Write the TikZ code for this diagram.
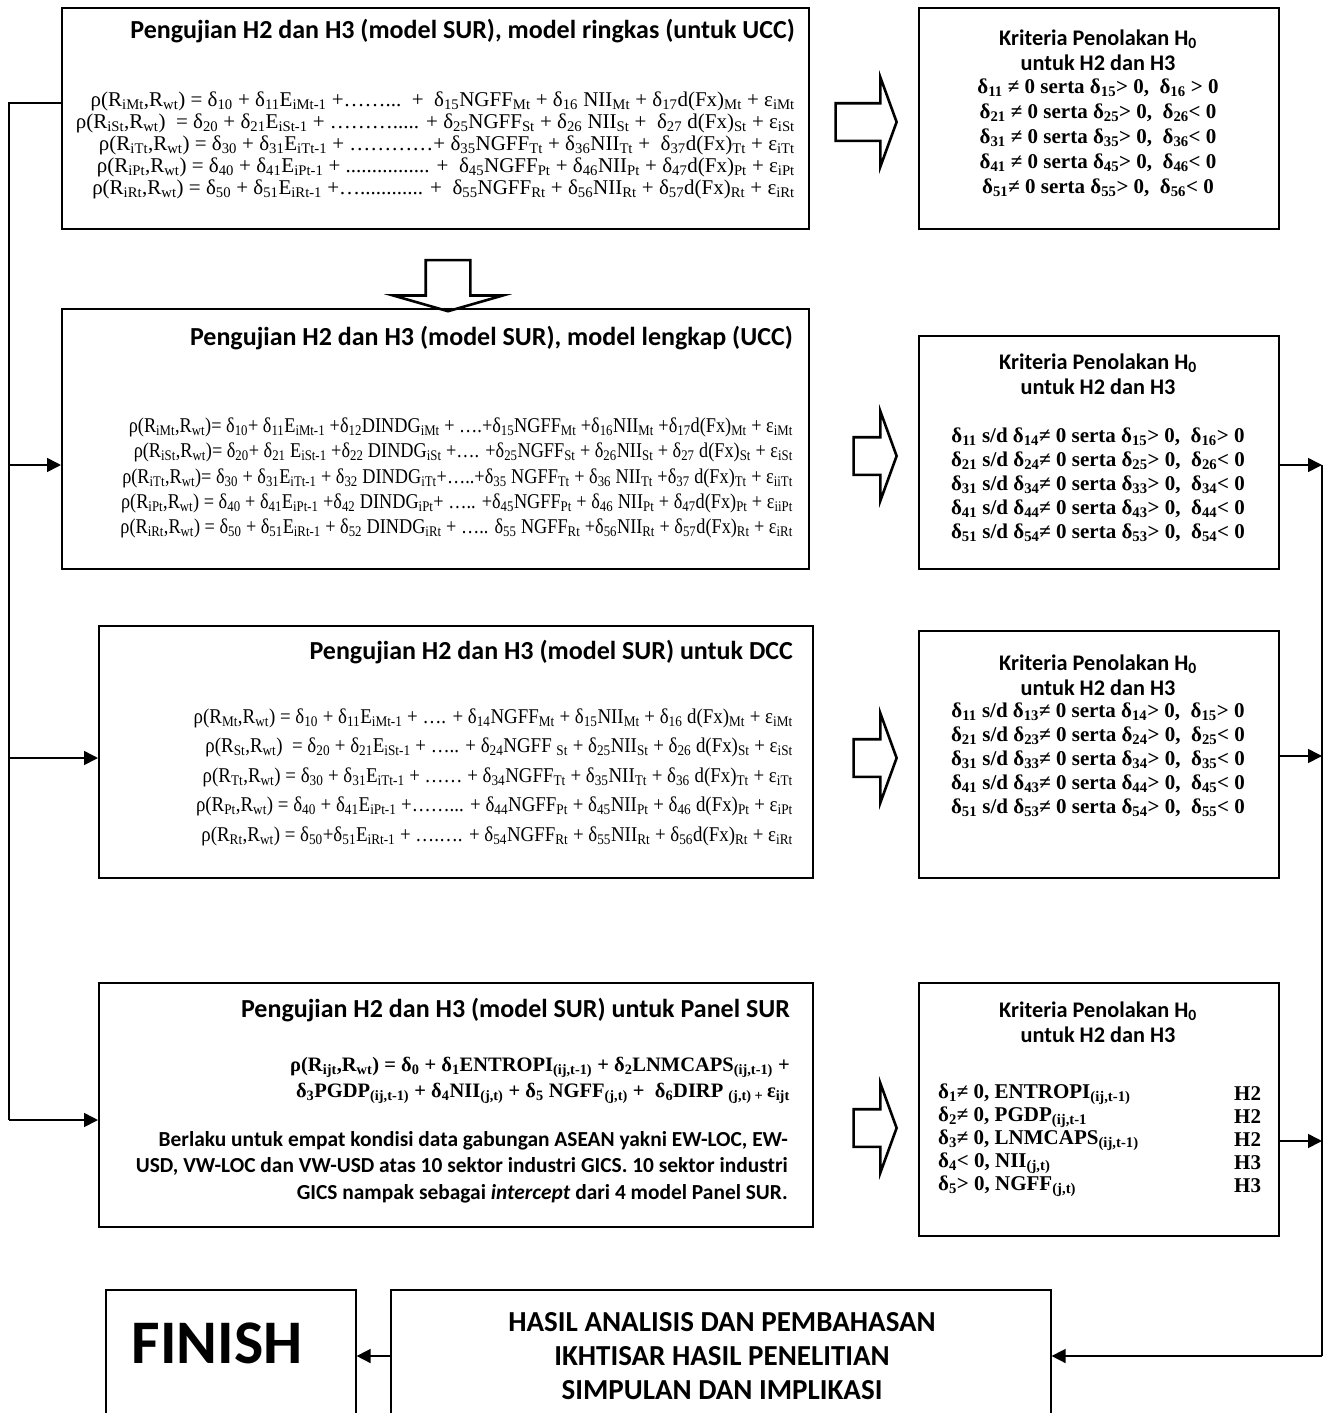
\documentclass[tikz,border=0pt]{standalone}
\usepackage{fontspec}
\setmainfont{Liberation Serif}
\newfontfamily\calfont{Carlito}
\usetikzlibrary{arrows.meta,shapes.arrows}

\newcommand\sbs[1]{\textsubscript{#1}}
\newcommand\dl[1]{δ\textsubscript{#1}}

\tikzset{
  x=1pt, y=-1pt,
  frame/.style={draw, line width=1.6pt, inner sep=0pt, anchor=north west},
  heading/.style={font=\calfont\bfseries\fontsize{26}{30}\selectfont, inner sep=0pt, anchor=east},
  eqn/.style={align=right, inner sep=0pt, anchor=east},
  crithead/.style={font=\calfont\bfseries\fontsize{22.3}{25}\selectfont, align=center, inner sep=0pt},
  critrows/.style={font=\bfseries\fontsize{21}{#1}\selectfont, align=center, inner sep=0pt},
  blockR/.style={single arrow, draw, line width=2.6pt, inner xsep=0pt, inner ysep=17.5pt,
    single arrow head extend=26pt, single arrow tip angle=140, anchor=east},
  wire/.style={line width=1.6pt},
  arr/.style={line width=1.6pt, -{Triangle[length=14pt,width=14pt]}},
  para/.style={font=\calfont\bfseries\fontsize{21.4}{26.5}\selectfont, align=right, inner sep=0pt, anchor=east},
  endtext/.style={font=\calfont\bfseries\fontsize{29}{34}\selectfont, align=center, inner sep=0pt},
}

\begin{document}
\begin{tikzpicture}
\useasboundingbox (0,0) rectangle (1331,1413);

% ---------- model boxes ----------
\node[frame, minimum width=747pt, minimum height=221pt] (m1) at (61,7) {};
\node[frame, minimum width=747pt, minimum height=260pt] (m2) at (61,308) {};
\node[frame, minimum width=714pt, minimum height=252pt] (m3) at (98,625) {};
\node[frame, minimum width=714pt, minimum height=244pt] (m4) at (98,982) {};

% ---------- criteria boxes ----------
\node[frame, minimum width=360pt, minimum height=221pt] (k1) at (918,7) {};
\node[frame, minimum width=360pt, minimum height=233pt] (k2) at (918,335) {};
\node[frame, minimum width=360pt, minimum height=247pt] (k3) at (918,630) {};
\node[frame, minimum width=360pt, minimum height=253pt] (k4) at (918,982) {};

% ---------- closing boxes (run off the lower edge) ----------
\node[frame, minimum width=250pt, minimum height=200pt] (fin) at (105,1289) {};
\node[frame, minimum width=660pt, minimum height=200pt] (res) at (390,1289) {};

% ---------- model box 1 ----------
\node[heading] (t1) at (795,31) {Pengujian H2 dan H3 (model SUR), model ringkas (untuk UCC)};
\node[eqn, font=\fontsize{21}{22}\selectfont] (e1) at (795,145) {%
ρ(R\sbs{iMt},R\sbs{wt}) = \dl{10} + \dl{11}E\sbs{iMt-1} +……...\ \ +\ \ \dl{15}NGFF\sbs{Mt} + \dl{16} NII\sbs{Mt} + \dl{17}d(Fx)\sbs{Mt} + ε\sbs{iMt}\\
ρ(R\sbs{iSt},R\sbs{wt})\ \ = \dl{20} + \dl{21}E\sbs{iSt-1} + ………..... + \dl{25}NGFF\sbs{St} + \dl{26} NII\sbs{St} +\ \ \dl{27} d(Fx)\sbs{St} + ε\sbs{iSt}\\
ρ(R\sbs{iTt},R\sbs{wt}) = \dl{30} + \dl{31}E\sbs{iTt-1} + …………+ \dl{35}NGFF\sbs{Tt} + \dl{36}NII\sbs{Tt} +\ \ \dl{37}d(Fx)\sbs{Tt} + ε\sbs{iTt}\\
ρ(R\sbs{iPt},R\sbs{wt}) = \dl{40} + \dl{41}E\sbs{iPt-1} + ................ +\ \ \dl{45}NGFF\sbs{Pt} + \dl{46}NII\sbs{Pt} + \dl{47}d(Fx)\sbs{Pt} + ε\sbs{iPt}\\
ρ(R\sbs{iRt},R\sbs{wt}) = \dl{50} + \dl{51}E\sbs{iRt-1} +…............ +\ \ \dl{55}NGFF\sbs{Rt} + \dl{56}NII\sbs{Rt} + \dl{57}d(Fx)\sbs{Rt} + ε\sbs{iRt}};

% ---------- model box 2 ----------
\node[heading] (t2) at (793,338) {Pengujian H2 dan H3 (model SUR), model lengkap (UCC)};
\node[eqn, font=\fontsize{21}{25.3}\selectfont\addfontfeature{FakeStretch=0.87}] (e2) at (793,478) {%
ρ(R\sbs{iMt},R\sbs{wt})= \dl{10}+ \dl{11}E\sbs{iMt-1} +\dl{12}DINDG\sbs{iMt} + ….+\dl{15}NGFF\sbs{Mt} +\dl{16}NII\sbs{Mt} +\dl{17}d(Fx)\sbs{Mt} + ε\sbs{iMt}\\
ρ(R\sbs{iSt},R\sbs{wt})= \dl{20}+ \dl{21} E\sbs{iSt-1} +\dl{22} DINDG\sbs{iSt} +…. +\dl{25}NGFF\sbs{St} + \dl{26}NII\sbs{St} + \dl{27} d(Fx)\sbs{St} + ε\sbs{iSt}\\
ρ(R\sbs{iTt},R\sbs{wt})= \dl{30} + \dl{31}E\sbs{iTt-1} + \dl{32} DINDG\sbs{iTt}+…..+\dl{35} NGFF\sbs{Tt} + \dl{36} NII\sbs{Tt} +\dl{37} d(Fx)\sbs{Tt} + ε\sbs{iiTt}\\
ρ(R\sbs{iPt},R\sbs{wt}) = \dl{40} + \dl{41}E\sbs{iPt-1} +\dl{42} DINDG\sbs{iPt}+ ….. +\dl{45}NGFF\sbs{Pt} + \dl{46} NII\sbs{Pt} + \dl{47}d(Fx)\sbs{Pt} + ε\sbs{iiPt}\\
ρ(R\sbs{iRt},R\sbs{wt}) = \dl{50} + \dl{51}E\sbs{iRt-1} + \dl{52} DINDG\sbs{iRt} + ….. \dl{55} NGFF\sbs{Rt} +\dl{56}NII\sbs{Rt} + \dl{57}d(Fx)\sbs{Rt} + ε\sbs{iRt}};

% ---------- model box 3 ----------
\node[heading] (t3) at (793,652) {Pengujian H2 dan H3 (model SUR) untuk DCC};
\node[eqn, font=\fontsize{21}{29.5}\selectfont\addfontfeature{FakeStretch=0.9}] (e3) at (793,777) {%
ρ(R\sbs{Mt},R\sbs{wt}) = \dl{10} + \dl{11}E\sbs{iMt-1} + …. + \dl{14}NGFF\sbs{Mt} + \dl{15}NII\sbs{Mt} + \dl{16} d(Fx)\sbs{Mt} + ε\sbs{iMt}\\
ρ(R\sbs{St},R\sbs{wt})\ \ = \dl{20} + \dl{21}E\sbs{iSt-1} + ….. + \dl{24}NGFF \sbs{St} + \dl{25}NII\sbs{St} + \dl{26} d(Fx)\sbs{St} + ε\sbs{iSt}\\
ρ(R\sbs{Tt},R\sbs{wt}) = \dl{30} + \dl{31}E\sbs{iTt-1} + …… + \dl{34}NGFF\sbs{Tt} + \dl{35}NII\sbs{Tt} + \dl{36} d(Fx)\sbs{Tt} + ε\sbs{iTt}\\
ρ(R\sbs{Pt},R\sbs{wt}) = \dl{40} + \dl{41}E\sbs{iPt-1} +……... + \dl{44}NGFF\sbs{Pt} + \dl{45}NII\sbs{Pt} + \dl{46} d(Fx)\sbs{Pt} + ε\sbs{iPt}\\
ρ(R\sbs{Rt},R\sbs{wt}) = \dl{50}+\dl{51}E\sbs{iRt-1} + ….…. + \dl{54}NGFF\sbs{Rt} + \dl{55}NII\sbs{Rt} + \dl{56}d(Fx)\sbs{Rt} + ε\sbs{iRt}};

% ---------- model box 4 ----------
\node[heading] (t4) at (790,1010) {Pengujian H2 dan H3 (model SUR) untuk Panel SUR};
\node[eqn, font=\bfseries\fontsize{20.5}{26}\selectfont] (e4) at (790,1080) {%
ρ(R\sbs{ijt},R\sbs{wt}) = \dl{0} + \dl{1}ENTROPI\sbs{(ij,t-1)} + \dl{2}LNMCAPS\sbs{(ij,t-1)} +\\
\dl{3}PGDP\sbs{(ij,t-1)} + \dl{4}NII\sbs{(j,t)} + \dl{5} NGFF\sbs{(j,t)} +\ \ \dl{6}DIRP \sbs{(j,t) + }ε\sbs{ijt}};
\node[para] (p4) at (788,1167) {%
Berlaku untuk empat kondisi data gabungan ASEAN yakni EW-LOC, EW-\\
USD, VW-LOC dan VW-USD atas 10 sektor industri GICS. 10 sektor industri\\
GICS nampak sebagai \textit{intercept} dari 4 model Panel SUR.};

% ---------- criteria texts ----------
\node[crithead] (h1) at (1098,50) {Kriteria Penolakan H\textsubscript{0}\\untuk H2 dan H3};
\node[critrows=25] (r1) at (1098,138) {%
\dl{11} ≠ 0 serta \dl{15}> 0,\ \ \dl{16} > 0\\
\dl{21} ≠ 0 serta \dl{25}> 0,\ \ \dl{26}< 0\\
\dl{31} ≠ 0 serta \dl{35}> 0,\ \ \dl{36}< 0\\
\dl{41} ≠ 0 serta \dl{45}> 0,\ \ \dl{46}< 0\\
\dl{51}≠ 0 serta \dl{55}> 0,\ \ \dl{56}< 0};

\node[crithead] (h2) at (1098,374) {Kriteria Penolakan H\textsubscript{0}\\untuk H2 dan H3};
\node[critrows=24] (r2) at (1098,485) {%
\dl{11} s/d \dl{14}≠ 0 serta \dl{15}> 0,\ \ \dl{16}> 0\\
\dl{21} s/d \dl{24}≠ 0 serta \dl{25}> 0,\ \ \dl{26}< 0\\
\dl{31} s/d \dl{34}≠ 0 serta \dl{33}> 0,\ \ \dl{34}< 0\\
\dl{41} s/d \dl{44}≠ 0 serta \dl{43}> 0,\ \ \dl{44}< 0\\
\dl{51} s/d \dl{54}≠ 0 serta \dl{53}> 0,\ \ \dl{54}< 0};

\node[crithead] (h3) at (1098,675) {Kriteria Penolakan H\textsubscript{0}\\untuk H2 dan H3};
\node[critrows=24] (r3) at (1098,760) {%
\dl{11} s/d \dl{13}≠ 0 serta \dl{14}> 0,\ \ \dl{15}> 0\\
\dl{21} s/d \dl{23}≠ 0 serta \dl{24}> 0,\ \ \dl{25}< 0\\
\dl{31} s/d \dl{33}≠ 0 serta \dl{34}> 0,\ \ \dl{35}< 0\\
\dl{41} s/d \dl{43}≠ 0 serta \dl{44}> 0,\ \ \dl{45}< 0\\
\dl{51} s/d \dl{53}≠ 0 serta \dl{54}> 0,\ \ \dl{55}< 0};

\node[crithead] (h4) at (1098,1022) {Kriteria Penolakan H\textsubscript{0}\\untuk H2 dan H3};
\node[critrows=23, align=left, anchor=west] (r4) at (938,1140) {%
\dl{1}≠ 0, ENTROPI\sbs{(ij,t-1)}\\
\dl{2}≠ 0, PGDP\sbs{(ij,t-1}\\
\dl{3}≠ 0, LNMCAPS\sbs{(ij,t-1)}\\
\dl{4}< 0, NII\sbs{(j,t)}\\
\dl{5}> 0, NGFF\sbs{(j,t)}};
\node[critrows=23, align=left, anchor=west] (q4) at (1234,1140) {H2\\H2\\H2\\H3\\H3};

% ---------- closing texts ----------
\node[font=\calfont\bfseries\fontsize{62}{62}\selectfont, inner sep=0pt] (fint) at (217,1343) {FINISH};
\node[endtext] (rt) at (722,1356) {HASIL ANALISIS DAN PEMBAHASAN\\IKHTISAR HASIL PENELITIAN\\SIMPULAN DAN IMPLIKASI};

% ---------- block arrows ----------
\node[blockR, minimum height=61pt] (b1) at (898,122) {};
\node[blockR, minimum height=43pt] (b2) at (898,456) {};
\node[blockR, minimum height=43pt] (b3) at (898,758) {};
\node[blockR, minimum height=43pt] (b4) at (898,1128) {};
\node[single arrow, draw, line width=2.6pt, inner xsep=0pt, inner ysep=21pt, rotate=-90,
  minimum height=51pt, single arrow head extend=32.5pt,
  single arrow tip angle=148] (bd) at (448,282.5) {};

% ---------- connectors ----------
\coordinate (lb) at (9,103);
\coordinate (l2) at (9,465);
\coordinate (l3) at (9,758);
\coordinate (l4) at (9,1120);
\coordinate (rr2) at (1322,465);
\coordinate (rr3) at (1322,756);
\coordinate (rr4) at (1322,1141);
\coordinate (rb) at (1322,1356);

\draw[wire] (m1.west |- lb) -- (lb) -- (l4);
\draw[arr] (l2) -- (m2.west |- l2);
\draw[arr] (l3) -- (m3.west |- l3);
\draw[arr] (l4) -- (m4.west |- l4);

\draw[arr] (k2.east |- rr2) -- (rr2);
\draw[arr] (k3.east |- rr3) -- (rr3);
\draw[arr] (k4.east |- rr4) -- (rr4);
\draw[wire] (rr2) -- (rb);
\draw[arr] (rb) -- (res.east |- rb);
\draw[arr] (res.west |- rb) -- (fin.east |- rb);
\end{tikzpicture}
\end{document}
